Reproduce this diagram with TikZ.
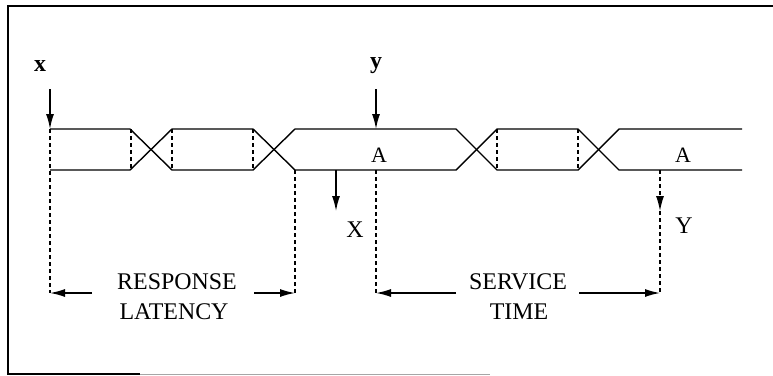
\documentclass[tikz,border=0pt]{standalone}
\usepackage{fontspec}
\setmainfont{Liberation Serif}
\usetikzlibrary{arrows.meta}
\tikzset{
  sig/.style={line width=1.4bp},
  dsh/.style={line width=1.2bp, dash pattern=on 4bp off 3bp},
  ptr/.style={line width=1.4bp, -{Latex[length=15bp,width=8bp]}},
  dptr/.style={dsh, -{Latex[length=15bp,width=8bp]}},
  lbl/.style={font=\fontsize{24}{26}\selectfont, inner sep=0pt},
  vlbl/.style={font=\fontsize{22}{24}\selectfont, inner sep=0pt},
  sml/.style={font=\bfseries\fontsize{24}{26}\selectfont, inner sep=0pt},
  frm/.style={line width=1.5bp},
}
\begin{document}
\begin{tikzpicture}[x=1bp,y=-1bp]
\useasboundingbox (0,0) rectangle (773,375);
% frame
\draw[frm] (773,6) -- (8,6) -- (8,374) -- (140,374);
\draw[line width=1bp, black!35] (140,374) -- (490,374);

% bus coordinates
\foreach \n/\x in {a/50,b/130,c/172,d/253,e/295,f/456,g/497,h/578,i/619,j/742}{
  \coordinate (t\n) at (\x,129);
  \coordinate (b\n) at (\x,170);
}
\draw[sig] (ta) -- (tb) -- (bc) -- (bd) -- (te) -- (tf) -- (bg) -- (bh) -- (ti) -- (tj);
\draw[sig] (ba) -- (bb) -- (tc) -- (td) -- (be) -- (bf) -- (tg) -- (th) -- (bi) -- (bj);

% dashed inner boundaries
\draw[dsh] (131,129) -- (131,170);
\draw[dsh] (tc) -- (bc);
\draw[dsh] (td) -- (bd);
\draw[dsh] (tg) -- (bg);
\draw[dsh] (th) -- (bh);

% value labels
\node[vlbl] (A1) at (379,155) {A};
\node[vlbl] (A2) at (683,155) {A};

% dimension coordinates
\coordinate (d1) at (50,293);
\coordinate (d2) at (295,293);
\coordinate (d3) at (376,293);
\coordinate (d4) at (660,293);
\coordinate (by) at (376,170);
\coordinate (bY) at (660,170);
\coordinate (bX) at (336,170);

% extension lines
\draw[dsh] (ta) -- (d1);
\draw[dsh] (be) -- (d2);
\draw[dsh] (by) -- (d3);

% input arrows
\node[sml] (x) at (40,66) {x};
\node[sml] (y) at (376,66) {y};
\coordinate (xs) at (50,89);
\coordinate (ys) at (376,89);
\draw[ptr] (xs) -- (ta);
\coordinate (ty) at (376,129);
\draw[ptr] (ys) -- (ty);

% output arrows
\coordinate (Xe) at (336,211);
\draw[ptr] (bX) -- (Xe);
\node[lbl] (X) at (355,230) {X};
\coordinate (Ye) at (660,211);
\draw[dptr] (bY) -- (Ye);
\draw[dsh] (Ye) -- (d4);
\node[lbl] (Y) at (684,226) {Y};

% response latency
\node[lbl] (rl1) at (177,282) {RESPONSE};
\node[lbl] (rl2) at (174,312) {LATENCY};
\coordinate (r1) at (92,293);
\coordinate (r2) at (254,293);
\draw[ptr] (r1) -- (d1);
\draw[ptr] (r2) -- (d2);

% service time
\node[lbl] (st1) at (518,282) {SERVICE};
\node[lbl] (st2) at (519,312) {TIME};
\coordinate (s1) at (456,293);
\coordinate (s2) at (579,293);
\draw[ptr] (s1) -- (d3);
\draw[ptr] (s2) -- (d4);
\end{tikzpicture}
\end{document}
